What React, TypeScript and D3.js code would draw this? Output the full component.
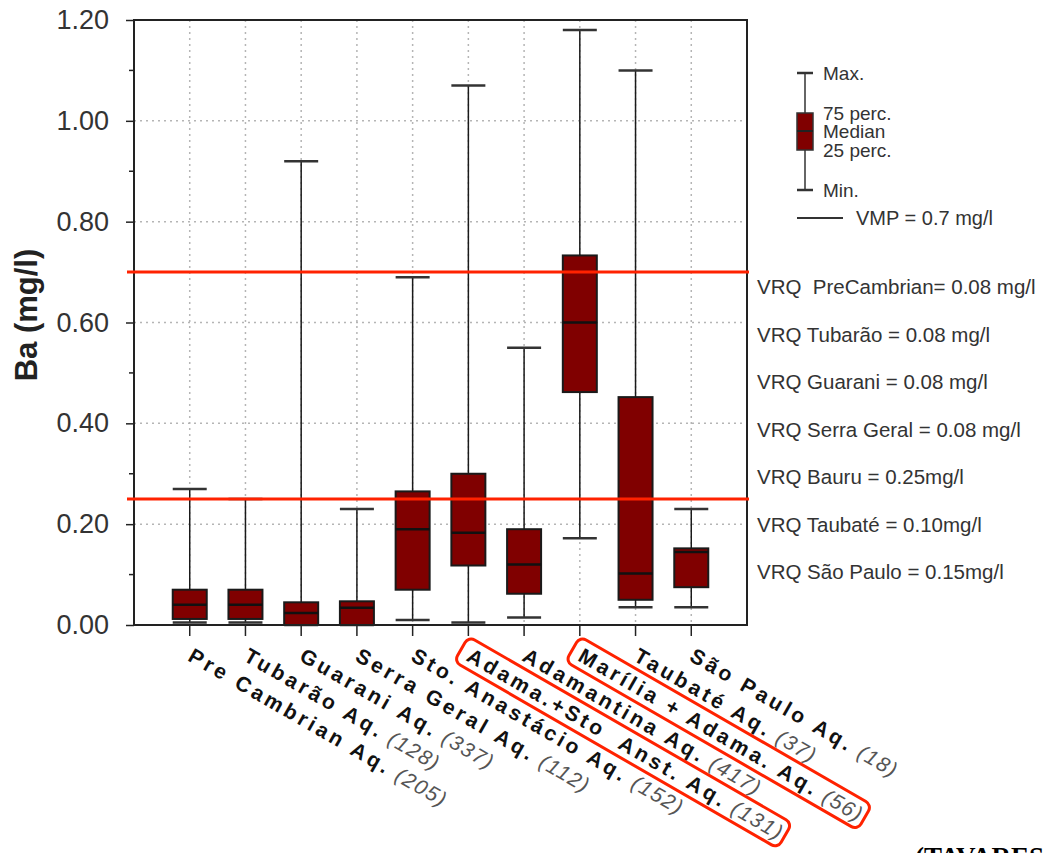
import React, { useEffect, useRef } from 'react';
import * as d3 from 'd3';

// aquifer units on the x axis, with sample counts
const categories = [
  'Pre Cambrian Aq.',
  'Tubarão Aq.',
  'Guarani Aq.',
  'Serra Geral Aq.',
  'Sto. Anastácio Aq.',
  'Adama.+Sto  Anst. Aq.',
  'Adamantina Aq.',
  'Marília + Adama. Aq.',
  'Taubaté Aq.',
  'São Paulo Aq.',
];
const counts = [205, 128, 337, 112, 152, 131, 417, 56, 37, 18];
const highlighted = ['Adama.+Sto  Anst. Aq.', 'Marília + Adama. Aq.'];

// Ba (mg/l) box statistics
const maxVals = [0.27, 0.25, 0.92, 0.23, 0.69, 1.07, 0.55, 1.18, 1.1, 0.23];
const q3Vals = [0.07, 0.07, 0.045, 0.047, 0.265, 0.3, 0.19, 0.733, 0.452, 0.152];
const medVals = [0.04, 0.04, 0.024, 0.034, 0.19, 0.183, 0.12, 0.6, 0.102, 0.145];
const q1Vals = [0.012, 0.012, 0.0, 0.0, 0.07, 0.118, 0.062, 0.462, 0.05, 0.075];
const minVals = [0.005, 0.005, 0.0, 0.0, 0.01, 0.005, 0.015, 0.172, 0.035, 0.035];

const refLines = [0.7, 0.25];
const yTicks = [0, 0.2, 0.4, 0.6, 0.8, 1.0, 1.2];
const yMinorTicks = [0.1, 0.3, 0.5, 0.7, 0.9, 1.1];

const legendLabels = ['Max.', '75 perc.', 'Median', '25 perc.', 'Min.'];
const vmpLabel = 'VMP = 0.7 mg/l';
const vrqLabels = [
  'VRQ  PreCambrian= 0.08 mg/l',
  'VRQ Tubarão = 0.08 mg/l',
  'VRQ Guarani = 0.08 mg/l',
  'VRQ Serra Geral = 0.08 mg/l',
  'VRQ Bauru = 0.25mg/l',
  'VRQ Taubaté = 0.10mg/l',
  'VRQ São Paulo = 0.15mg/l',
];

const W = 1045;
const H = 853;
const plot = { left: 134, right: 747, top: 20, bottom: 625 };
const font = "'Liberation Sans', Arial, sans-serif";

const App = () => {
  const svgRef = useRef<SVGSVGElement>(null);

  useEffect(() => {
    const svg = d3.select(svgRef.current);
    svg.selectAll('*').remove();

    const x = d3.scalePoint<string>().domain(categories).range([plot.left, plot.right]).padding(1);
    const y = d3.scaleLinear().domain([0, 1.2]).range([plot.bottom, plot.top]);
    const boxW = 34;

    // dotted grid
    const grid = svg.append('g').attr('stroke', '#b5b5b5').attr('stroke-width', 1.5).attr('stroke-dasharray', '2,4');
    grid.selectAll('.hg')
      .data(yTicks.slice(1, -1))
      .enter()
      .append('line')
      .attr('x1', plot.left)
      .attr('x2', plot.right)
      .attr('y1', (d) => y(d))
      .attr('y2', (d) => y(d));
    grid.selectAll('.vg')
      .data(categories)
      .enter()
      .append('line')
      .attr('x1', (d) => x(d)!)
      .attr('x2', (d) => x(d)!)
      .attr('y1', plot.top)
      .attr('y2', plot.bottom);

    // y axis
    const yAxis = d3.axisLeft(y).tickValues(yTicks).tickSize(8).tickPadding(17).tickFormat(d3.format('.2f'));
    const ga = svg.append('g').attr('transform', `translate(${plot.left},0)`).call(yAxis);
    ga.select('.domain').remove();
    ga.selectAll('.tick line').attr('stroke', '#222').attr('stroke-width', 1.5);
    ga.selectAll('.tick text').attr('font-family', font).attr('font-size', 27).attr('fill', '#333');
    svg.append('g')
      .selectAll('line')
      .data(yMinorTicks)
      .enter()
      .append('line')
      .attr('x1', plot.left - 5)
      .attr('x2', plot.left)
      .attr('y1', (d) => y(d))
      .attr('y2', (d) => y(d))
      .attr('stroke', '#222')
      .attr('stroke-width', 1.5);

    // x ticks
    svg.append('g')
      .selectAll('line')
      .data(categories)
      .enter()
      .append('line')
      .attr('x1', (d) => x(d)!)
      .attr('x2', (d) => x(d)!)
      .attr('y1', plot.bottom)
      .attr('y2', plot.bottom + 11)
      .attr('stroke', '#222')
      .attr('stroke-width', 1.5);

    // boxes
    const boxes = svg.append('g')
      .selectAll('g')
      .data(categories)
      .enter()
      .append('g');
    boxes.append('line')
      .attr('x1', (d) => x(d)!)
      .attr('x2', (d) => x(d)!)
      .attr('y1', (d, i) => y(minVals[i]))
      .attr('y2', (d, i) => y(maxVals[i]))
      .attr('stroke', '#1a1a1a')
      .attr('stroke-width', 1.5);
    [maxVals, minVals].forEach((vals) => {
      boxes.append('line')
        .attr('x1', (d) => x(d)! - boxW / 2)
        .attr('x2', (d) => x(d)! + boxW / 2)
        .attr('y1', (d, i) => y(vals[i]))
        .attr('y2', (d, i) => y(vals[i]))
        .attr('stroke', '#333')
        .attr('stroke-width', 2.5);
    });
    boxes.append('rect')
      .attr('x', (d) => x(d)! - boxW / 2)
      .attr('y', (d, i) => y(q3Vals[i]))
      .attr('width', boxW)
      .attr('height', (d, i) => y(q1Vals[i]) - y(q3Vals[i]))
      .attr('fill', '#800000')
      .attr('stroke', '#1a1a1a')
      .attr('stroke-width', 2);
    boxes.append('line')
      .attr('x1', (d) => x(d)! - boxW / 2)
      .attr('x2', (d) => x(d)! + boxW / 2)
      .attr('y1', (d, i) => y(medVals[i]))
      .attr('y2', (d, i) => y(medVals[i]))
      .attr('stroke', '#111')
      .attr('stroke-width', 2.5);

    // frame
    svg.append('rect')
      .attr('x', plot.left)
      .attr('y', plot.top)
      .attr('width', plot.right - plot.left)
      .attr('height', plot.bottom - plot.top)
      .attr('fill', 'none')
      .attr('stroke', '#222')
      .attr('stroke-width', 2);

    // red limit lines
    svg.append('g')
      .selectAll('line')
      .data(refLines)
      .enter()
      .append('line')
      .attr('x1', plot.left - 7)
      .attr('x2', plot.right + 2)
      .attr('y1', (d) => y(d))
      .attr('y2', (d) => y(d))
      .attr('stroke', '#ff2200')
      .attr('stroke-width', 3);

    // y title
    svg.append('text')
      .attr('transform', `translate(37,315) rotate(-90)`)
      .attr('text-anchor', 'middle')
      .attr('font-family', font)
      .attr('font-weight', 'bold')
      .attr('font-size', 31)
      .attr('fill', '#222')
      .text('Ba (mg/l)');

    // x labels, rotated
    const lab = svg.append('g')
      .selectAll('g')
      .data(categories)
      .enter()
      .append('g')
      .attr('transform', (d) => `translate(${x(d)! - 3},660) rotate(30)`);
    const txt = lab.append('text')
      .attr('font-family', font)
      .attr('font-size', 21)
      .attr('letter-spacing', 3.5)
      .style('white-space', 'pre');
    txt.append('tspan').attr('font-weight', 'bold').attr('fill', '#111').text((d) => d);
    txt.append('tspan')
      .attr('font-style', 'italic')
      .attr('fill', '#555')
      .attr('letter-spacing', 1.5)
      .text((d, i) => ` (${counts[i]})`);
    lab.each(function (d) {
      if (!highlighted.includes(d)) return;
      const g = d3.select(this);
      const bb = (g.select('text').node() as SVGTextElement).getBBox();
      g.insert('rect', 'text')
        .attr('x', bb.x - 9)
        .attr('y', bb.y - 3)
        .attr('width', bb.width + 12)
        .attr('height', bb.height + 6)
        .attr('rx', 7)
        .attr('fill', 'none')
        .attr('stroke', '#ff2200')
        .attr('stroke-width', 3);
    });

    // legend
    const lyPos = [73, 113, 131, 150, 190];
    const leg = svg.append('g');
    leg.append('line')
      .attr('x1', 805).attr('x2', 805)
      .attr('y1', lyPos[0]).attr('y2', lyPos[4])
      .attr('stroke', '#333').attr('stroke-width', 1.5);
    [lyPos[0], lyPos[4]].forEach((v) => {
      leg.append('line')
        .attr('x1', 797).attr('x2', 813)
        .attr('y1', v).attr('y2', v)
        .attr('stroke', '#333').attr('stroke-width', 2.5);
    });
    leg.append('rect')
      .attr('x', 797).attr('y', lyPos[1])
      .attr('width', 16).attr('height', lyPos[3] - lyPos[1])
      .attr('fill', '#800000').attr('stroke', '#333').attr('stroke-width', 1.5);
    leg.append('line')
      .attr('x1', 797).attr('x2', 813)
      .attr('y1', lyPos[2]).attr('y2', lyPos[2])
      .attr('stroke', '#222').attr('stroke-width', 2);
    leg.selectAll('text.ll')
      .data(legendLabels)
      .enter()
      .append('text')
      .attr('x', 823)
      .attr('y', (d, i) => lyPos[i])
      .attr('dy', '0.35em')
      .attr('font-family', font)
      .attr('font-size', 19)
      .attr('fill', '#333')
      .text((d) => d);
    leg.append('line')
      .attr('x1', 797).attr('x2', 843)
      .attr('y1', 218).attr('y2', 218)
      .attr('stroke', '#333').attr('stroke-width', 2);
    leg.append('text')
      .attr('x', 856).attr('y', 218).attr('dy', '0.35em')
      .attr('font-family', font).attr('font-size', 20).attr('fill', '#333')
      .text(vmpLabel);

    // VRQ notes
    svg.append('g')
      .selectAll('text')
      .data(vrqLabels)
      .enter()
      .append('text')
      .attr('x', 757)
      .attr('y', (d, i) => 287 + i * 47.5)
      .attr('dy', '0.35em')
      .attr('font-family', font)
      .attr('font-size', 20.5)
      .attr('fill', '#333')
      .style('white-space', 'pre')
      .text((d) => d);

    // source (cut off at the bottom-right)
    svg.append('text')
      .attr('x', 915)
      .attr('y', 866)
      .attr('font-family', "'Liberation Serif', 'Times New Roman', serif")
      .attr('font-weight', 'bold')
      .attr('font-size', 27)
      .attr('fill', '#000')
      .text('(TAVARES');
  }, []);

  return (
    <svg
      ref={svgRef}
      width={W}
      height={H}
      style={{ position: 'absolute', left: 0, top: 0, background: '#fff' }}
    />
  );
};

export default App;
